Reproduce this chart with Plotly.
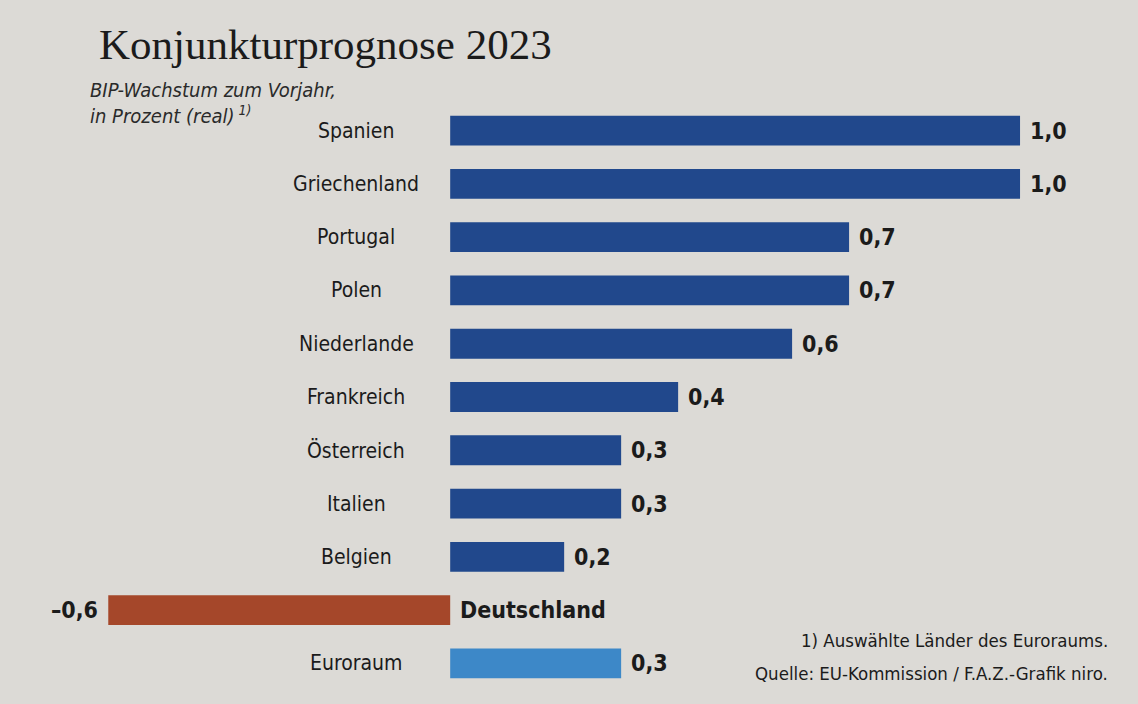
import plotly.graph_objects as go

# Konjunkturprognose 2023, BIP-Wachstum in Prozent
laender = ["Spanien", "Griechenland", "Portugal", "Polen", "Niederlande", "Frankreich",
           "Österreich", "Italien", "Belgien", "Deutschland", "Euroraum"]
wachstum = [1.0, 1.0, 0.7, 0.7, 0.6, 0.4, 0.3, 0.3, 0.2, -0.6, 0.3]

NAVY = "#21488c"
RED = "#a5472a"
LIGHT = "#3d88c8"
BG = "#dcdad6"
INK = "#1b1b1b"
FONT = "DejaVu Sans Condensed, Liberation Sans Narrow, Open Sans, sans-serif"

TOP, BOTTOM = 104, 14
PLOT_H = 704 - TOP - BOTTOM


def py(px):
    # pixel row in the page -> paper y of the plot area
    return (704 - BOTTOM - px) / PLOT_H


def fmt(v):
    s = f"{abs(v):.1f}".replace(".", ",")
    return ("–" if v < 0 else "") + s


colors = []
for name, v in zip(laender, wachstum):
    if name == "Euroraum":
        colors.append(LIGHT)
    elif v < 0:
        colors.append(RED)
    else:
        colors.append(NAVY)

fig = go.Figure()
fig.add_trace(go.Bar(
    x=wachstum,
    y=laender,
    orientation="h",
    marker=dict(color=colors, line=dict(width=0)),
    hoverinfo="skip",
))

bold = dict(family=FONT, size=23, color=INK, weight="bold")
annotations = []
for name, v in zip(laender, wachstum):
    # value label at the end of the bar
    annotations.append(dict(
        x=v, y=name, xref="x", yref="y", text=fmt(v), showarrow=False,
        xanchor="left" if v >= 0 else "right", xshift=8 if v >= 0 else -8,
        font=bold,
    ))
    if v < 0:
        # label sits on the right of the zero line
        annotations.append(dict(
            x=0, y=name, xref="x", yref="y", text=name, showarrow=False,
            xanchor="left", xshift=8, font=bold,
        ))
    else:
        annotations.append(dict(
            x=-0.165, y=name, xref="x", yref="y", text=name, showarrow=False,
            xanchor="center",
            font=dict(family=FONT, size=21, color=INK),
        ))

annotations += [
    dict(x=97 / 1138, y=py(45), xref="paper", yref="paper", xanchor="left", yanchor="middle",
         text="Konjunkturprognose 2023", showarrow=False,
         font=dict(family="Liberation Serif, serif", size=43, color=INK)),
    dict(x=88 / 1138, y=py(103), xref="paper", yref="paper", xanchor="left", yanchor="middle",
         text="<i>BIP-Wachstum zum Vorjahr,<br>in Prozent (real)<sup> 1)</sup></i>", showarrow=False,
         align="left",
         font=dict(family=FONT, size=20, color="#2a2a2a")),
    dict(x=1110 / 1138, y=py(640), xref="paper", yref="paper", xanchor="right", yanchor="middle",
         text="1) Auswählte Länder des Euroraums.", showarrow=False,
         font=dict(family=FONT, size=18.5, color=INK)),
    dict(x=1110 / 1138, y=py(673), xref="paper", yref="paper", xanchor="right", yanchor="middle",
         text="Quelle: EU-Kommission / F.A.Z.-Grafik niro.", showarrow=False,
         font=dict(family=FONT, size=18.5, color=INK)),
]

fig.update_layout(
    width=1138,
    height=704,
    margin=dict(l=0, r=0, t=TOP, b=BOTTOM),
    paper_bgcolor=BG,
    plot_bgcolor=BG,
    bargap=0.44,
    showlegend=False,
    xaxis=dict(range=[-0.79, 1.207], visible=False, fixedrange=True),
    yaxis=dict(autorange="reversed", visible=False, fixedrange=True),
    annotations=annotations,
)

fig.write_html(
    "out.html",
    config={"displayModeBar": False},
    post_script="document.body.style.margin='0';document.body.style.background='" + BG + "';",
)
